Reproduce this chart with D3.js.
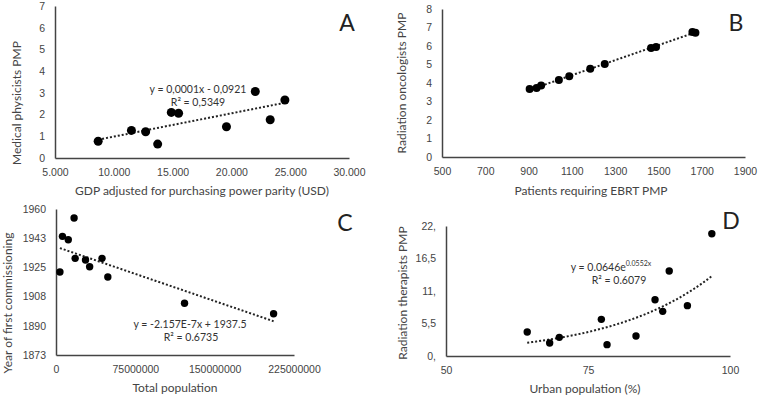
<!DOCTYPE html>
<html>
<head>
<meta charset="utf-8">
<script src="https://cdn.jsdelivr.net/npm/d3@7"></script>
<style>
  body { margin: 0; background: #fff; }
  svg { font-family: Lato, "Open Sans", sans-serif; }
  .tick text { fill: #444; font-size: 10.5px; }
  .domain { stroke: #444; stroke-width: 1.5; }
  .title { fill: #444; font-size: 12px; }
  .eq { fill: #333; font-size: 10.5px; }
  .letter { fill: #222; font-size: 23px; }
  .trend { fill: none; stroke: #222; stroke-width: 2; stroke-dasharray: 2,2; }
</style>
</head>
<body>
<svg width="758" height="396"></svg>
<script>
// A: GDP vs medical physicists
let gdp = [8670, 11500, 12710, 13730, 14890, 15510, 19580, 22030, 23300, 24550];
let physicists = [0.77, 1.27, 1.21, 0.64, 2.10, 2.06, 1.44, 3.06, 1.76, 2.67];
let ticksA_x = [5000, 10000, 15000, 20000, 25000, 30000];
let labelsA_x = ["5.000", "10.000", "15.000", "20.000", "25.000", "30.000"];
let ticksA_y = [0, 1, 2, 3, 4, 5, 6, 7];

// B: patients requiring EBRT vs radiation oncologists
let ebrt = [905, 937, 958, 1040, 1088, 1185, 1252, 1466, 1489, 1657, 1671];
let oncologists = [3.68, 3.73, 3.86, 4.16, 4.36, 4.77, 5.03, 5.89, 5.95, 6.76, 6.72];
let ticksB_x = [500, 700, 900, 1100, 1300, 1500, 1700, 1900];
let ticksB_y = [0, 1, 2, 3, 4, 5, 6, 7, 8];

// C: total population vs year of first commissioning
let population = [3700000, 6100000, 11600000, 17100000, 18100000, 27900000, 31800000, 43500000, 49000000, 121500000, 205700000];
let firstYear = [1922.5, 1943.7, 1941.7, 1954.6, 1930.6, 1929.6, 1925.6, 1930.6, 1919.5, 1903.8, 1897.6];
let ticksC_x = [0, 75000000, 150000000, 225000000];
let ticksC_y = [1873, 1890.4, 1907.8, 1925.2, 1942.6, 1960];
let trendC = { slope: -2.157e-7, intercept: 1937.5 };

// D: urban population vs radiation therapists
let urban = [64.3, 68.25, 69.95, 77.35, 78.35, 83.45, 86.8, 88.15, 89.3, 92.5, 96.8];
let therapists = [4.06, 2.2, 3.16, 6.2, 1.92, 3.38, 9.53, 7.56, 14.38, 8.52, 20.7];
let ticksD_x = [50, 75, 100];
let ticksD_y = [0, 5.5, 11, 16.5, 22];
let labelsD_y = ["0,", "5,5", "11,", "16,5", "22,"];
let trendD = { a: 0.0646, b: 0.0552 };

let svg = d3.select("svg");

function linFit(xs, ys) {
  let mx = d3.mean(xs), my = d3.mean(ys);
  let num = d3.sum(xs, (x, i) => (x - mx) * (ys[i] - my));
  let den = d3.sum(xs, x => (x - mx) * (x - mx));
  let slope = num / den;
  return { slope: slope, intercept: my - slope * mx };
}

function panel(opt) {
  let g = svg.append("g");
  let x = d3.scaleLinear().domain(opt.xDomain).range(opt.xRange);
  let y = d3.scaleLinear().domain(opt.yDomain).range(opt.yRange);

  let xAxis = d3.axisBottom(x).tickValues(opt.xTicks).tickSize(0).tickPadding(opt.xPad || 11)
    .tickFormat(opt.xFormat || d3.format("d"));
  g.append("g").attr("transform", "translate(0," + opt.yRange[0] + ")").call(xAxis);

  let yAxis = d3.axisLeft(y).tickValues(opt.yTicks).tickSize(0).tickPadding(opt.yPad || 10)
    .tickFormat(opt.yFormat || d3.format("d"));
  g.append("g").attr("transform", "translate(" + opt.xRange[0] + ",0)").call(yAxis);

  // trendline
  let [x0, x1] = d3.extent(opt.xs);
  let pts = d3.range(0, 41).map(i => x0 + (x1 - x0) * i / 40);
  g.append("path").attr("class", "trend")
    .attr("d", d3.line().x(d => x(d)).y(d => y(opt.fit(d)))(pts));

  g.selectAll("circle").data(opt.xs).enter().append("circle")
    .attr("cx", d => x(d))
    .attr("cy", (d, i) => y(opt.ys[i]))
    .attr("r", opt.r)
    .attr("fill", "#000");

  g.append("text").attr("class", "title")
    .attr("text-anchor", "middle")
    .attr("x", opt.xTitlePos[0]).attr("y", opt.xTitlePos[1])
    .text(opt.xTitle);
  g.append("text").attr("class", "title")
    .attr("text-anchor", "middle")
    .attr("transform", "translate(" + opt.yTitlePos[0] + "," + opt.yTitlePos[1] + ") rotate(-90)")
    .text(opt.yTitle);
  g.append("text").attr("class", "letter")
    .attr("text-anchor", "middle")
    .attr("x", opt.letterPos[0]).attr("y", opt.letterPos[1])
    .text(opt.letter);
  return g;
}

let fitA = linFit(gdp, physicists);
let gA = panel({
  xs: gdp, ys: physicists, r: 4.5,
  xDomain: [5000, 30000], xRange: [55, 349], yDomain: [0, 7], yRange: [158, 6],
  xTicks: ticksA_x, xFormat: (d, i) => labelsA_x[i], yTicks: ticksA_y,
  fit: v => fitA.slope * v + fitA.intercept,
  xTitle: "GDP adjusted for purchasing power parity (USD)", xTitlePos: [202, 195],
  yTitle: "Medical physicists PMP", yTitlePos: [21, 103],
  letter: "A", letterPos: [347, 31]
});
gA.append("text").attr("class", "eq").attr("text-anchor", "middle").attr("x", 198).attr("y", 93).text("y = 0,0001x - 0,0921");
gA.append("text").attr("class", "eq").attr("text-anchor", "middle").attr("x", 198).attr("y", 106).text("R² = 0,5349");

let fitB = linFit(ebrt, oncologists);
panel({
  xs: ebrt, ys: oncologists, r: 4,
  xDomain: [500, 1900], xRange: [442, 745], yDomain: [0, 8], yRange: [157, 9],
  xTicks: ticksB_x, yTicks: ticksB_y,
  fit: v => fitB.slope * v + fitB.intercept,
  xTitle: "Patients requiring EBRT PMP", xTitlePos: [591, 195],
  yTitle: "Radiation oncologists PMP", yTitlePos: [406, 83],
  letter: "B", letterPos: [736, 31]
});

let gC = panel({
  xs: population, ys: firstYear, r: 3.7,
  xDomain: [0, 225000000], xRange: [56, 294], yDomain: [1873, 1960], yRange: [355, 209],
  xTicks: ticksC_x, yTicks: ticksC_y, yFormat: d => Math.round(d),
  fit: v => trendC.slope * v + trendC.intercept,
  xTitle: "Total population", xTitlePos: [175, 392],
  yTitle: "Year of first commissioning", yTitlePos: [12, 303],
  letter: "C", letterPos: [345, 231]
});
gC.append("text").attr("class", "eq").attr("text-anchor", "middle").attr("x", 190).attr("y", 328).text("y = -2.157E-7x + 1937.5");
gC.append("text").attr("class", "eq").attr("text-anchor", "middle").attr("x", 191).attr("y", 341).text("R² = 0.6735");

let gD = panel({
  xs: urban, ys: therapists, r: 3.7,
  xDomain: [50, 100], xRange: [446, 730], yDomain: [0, 22], yRange: [356, 226],
  xTicks: ticksD_x, yTicks: ticksD_y, yFormat: (d, i) => labelsD_y[i],
  fit: v => trendD.a * Math.exp(trendD.b * v),
  xTitle: "Urban population (%)", xTitlePos: [585, 393],
  yTitle: "Radiation therapists PMP", yTitlePos: [407, 293],
  letter: "D", letterPos: [731, 229]
});
let eqD = gD.append("text").attr("class", "eq").attr("text-anchor", "middle").attr("x", 611).attr("y", 271);
eqD.append("tspan").text("y = 0.0646e");
eqD.append("tspan").attr("dy", -5).attr("font-size", 7).text("0.0552x");
gD.append("text").attr("class", "eq").attr("text-anchor", "middle").attr("x", 619).attr("y", 284).text("R² = 0.6079");
</script>
</body>
</html>
